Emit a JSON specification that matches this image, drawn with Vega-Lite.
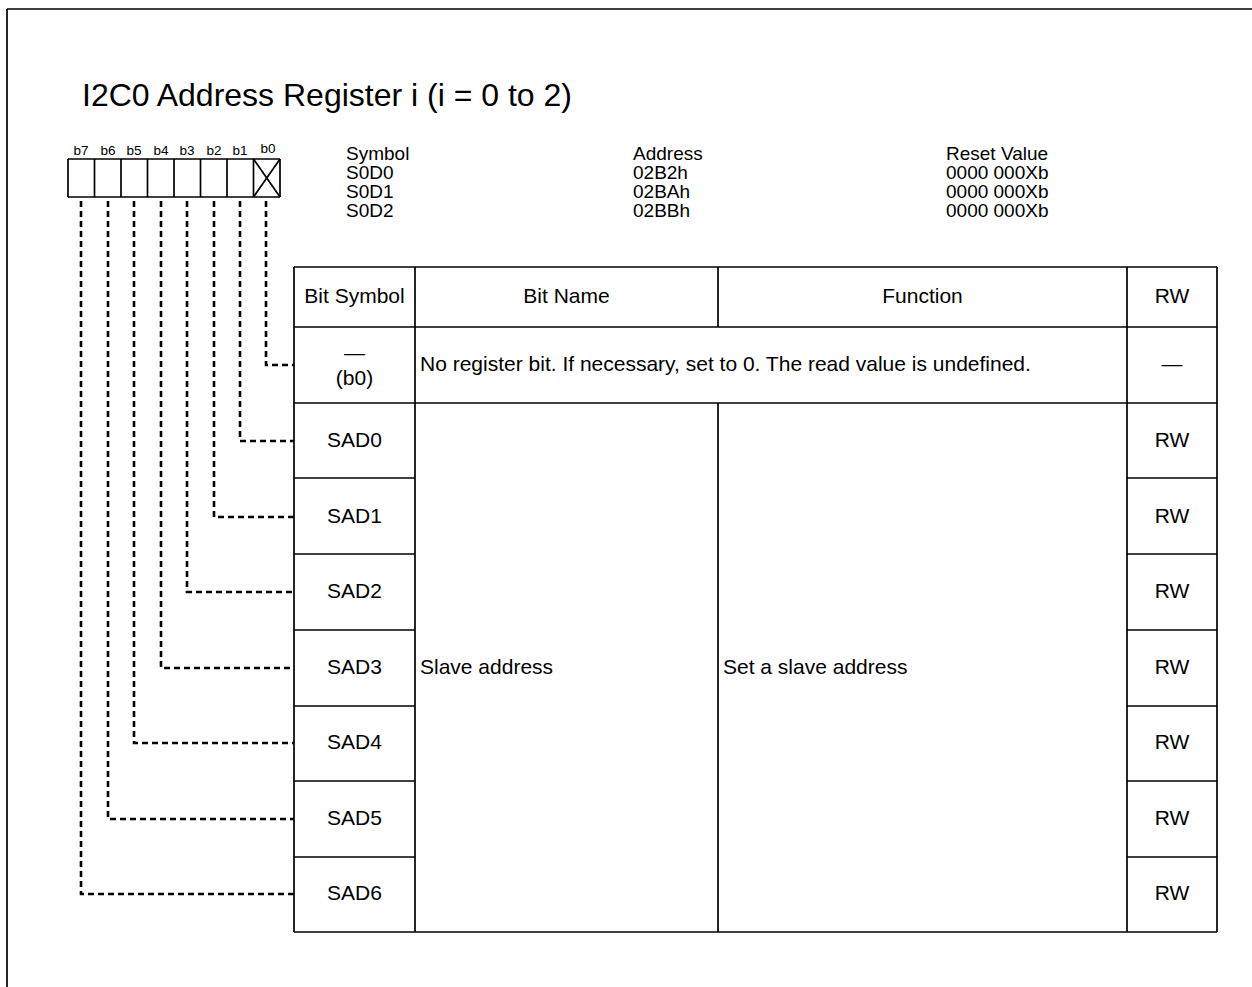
{
  "$schema": "https://vega.github.io/schema/vega-lite/v6.json",
  "width": 1252,
  "height": 987,
  "autosize": {"type": "none"},
  "padding": 0,
  "background": "white",
  "config": {"view": {"stroke": null}, "font": "Liberation Sans"},
  "datasets": {
    "solid": [
      {"x": 7, "y": 9, "x2": 1260, "y2": 9},
      {"x": 7, "y": 9, "x2": 7, "y2": 1000},
      {"x": 68, "y": 159, "x2": 280, "y2": 159},
      {"x": 68, "y": 197, "x2": 280, "y2": 197},
      {"x": 68, "y": 159, "x2": 68, "y2": 197},
      {"x": 94.5, "y": 159, "x2": 94.5, "y2": 197},
      {"x": 121, "y": 159, "x2": 121, "y2": 197},
      {"x": 147.5, "y": 159, "x2": 147.5, "y2": 197},
      {"x": 174, "y": 159, "x2": 174, "y2": 197},
      {"x": 200.5, "y": 159, "x2": 200.5, "y2": 197},
      {"x": 227, "y": 159, "x2": 227, "y2": 197},
      {"x": 253.5, "y": 159, "x2": 253.5, "y2": 197},
      {"x": 280, "y": 159, "x2": 280, "y2": 197},
      {"x": 253.5, "y": 159, "x2": 280, "y2": 197},
      {"x": 253.5, "y": 197, "x2": 280, "y2": 159},
      {"x": 294, "y": 267, "x2": 1217, "y2": 267},
      {"x": 294, "y": 327, "x2": 1217, "y2": 327},
      {"x": 294, "y": 403, "x2": 1217, "y2": 403},
      {"x": 294, "y": 932, "x2": 1217, "y2": 932},
      {"x": 294, "y": 478, "x2": 415, "y2": 478},
      {"x": 294, "y": 554, "x2": 415, "y2": 554},
      {"x": 294, "y": 630, "x2": 415, "y2": 630},
      {"x": 294, "y": 706, "x2": 415, "y2": 706},
      {"x": 294, "y": 781, "x2": 415, "y2": 781},
      {"x": 294, "y": 857, "x2": 415, "y2": 857},
      {"x": 1127, "y": 478, "x2": 1217, "y2": 478},
      {"x": 1127, "y": 554, "x2": 1217, "y2": 554},
      {"x": 1127, "y": 630, "x2": 1217, "y2": 630},
      {"x": 1127, "y": 706, "x2": 1217, "y2": 706},
      {"x": 1127, "y": 781, "x2": 1217, "y2": 781},
      {"x": 1127, "y": 857, "x2": 1217, "y2": 857},
      {"x": 294, "y": 267, "x2": 294, "y2": 932},
      {"x": 415, "y": 267, "x2": 415, "y2": 932},
      {"x": 1127, "y": 267, "x2": 1127, "y2": 932},
      {"x": 1217, "y": 267, "x2": 1217, "y2": 932},
      {"x": 718, "y": 267, "x2": 718, "y2": 327},
      {"x": 718, "y": 403, "x2": 718, "y2": 932}
    ],
    "dashed": [
      {"bit": "b0", "seq": 1, "x": 266, "y": 201},
      {"bit": "b0", "seq": 2, "x": 266, "y": 365},
      {"bit": "b0", "seq": 3, "x": 294, "y": 365},
      {"bit": "b1", "seq": 1, "x": 240, "y": 201},
      {"bit": "b1", "seq": 2, "x": 240, "y": 441},
      {"bit": "b1", "seq": 3, "x": 294, "y": 441},
      {"bit": "b2", "seq": 1, "x": 214, "y": 201},
      {"bit": "b2", "seq": 2, "x": 214, "y": 517},
      {"bit": "b2", "seq": 3, "x": 294, "y": 517},
      {"bit": "b3", "seq": 1, "x": 187, "y": 201},
      {"bit": "b3", "seq": 2, "x": 187, "y": 592},
      {"bit": "b3", "seq": 3, "x": 294, "y": 592},
      {"bit": "b4", "seq": 1, "x": 161, "y": 201},
      {"bit": "b4", "seq": 2, "x": 161, "y": 668},
      {"bit": "b4", "seq": 3, "x": 294, "y": 668},
      {"bit": "b5", "seq": 1, "x": 134, "y": 201},
      {"bit": "b5", "seq": 2, "x": 134, "y": 743},
      {"bit": "b5", "seq": 3, "x": 294, "y": 743},
      {"bit": "b6", "seq": 1, "x": 108, "y": 201},
      {"bit": "b6", "seq": 2, "x": 108, "y": 819},
      {"bit": "b6", "seq": 3, "x": 294, "y": 819},
      {"bit": "b7", "seq": 1, "x": 81, "y": 201},
      {"bit": "b7", "seq": 2, "x": 81, "y": 894},
      {"bit": "b7", "seq": 3, "x": 294, "y": 894}
    ],
    "bitLabels": [
      {"label": "b7", "x": 81, "y": 151},
      {"label": "b6", "x": 108, "y": 151},
      {"label": "b5", "x": 134, "y": 151},
      {"label": "b4", "x": 161, "y": 151},
      {"label": "b3", "x": 187, "y": 151},
      {"label": "b2", "x": 214, "y": 151},
      {"label": "b1", "x": 240, "y": 151},
      {"label": "b0", "x": 268, "y": 149}
    ],
    "title": [
      {"label": "I2C0 Address Register i (i = 0 to 2)", "x": 82, "y": 96}
    ],
    "headerText": [
      {"label": "Symbol", "x": 346, "y": 154},
      {"label": "S0D0", "x": 346, "y": 173},
      {"label": "S0D1", "x": 346, "y": 192},
      {"label": "S0D2", "x": 346, "y": 211},
      {"label": "Address", "x": 633, "y": 154},
      {"label": "02B2h", "x": 633, "y": 173},
      {"label": "02BAh", "x": 633, "y": 192},
      {"label": "02BBh", "x": 633, "y": 211},
      {"label": "Reset Value", "x": 946, "y": 154},
      {"label": "0000 000Xb", "x": 946, "y": 173},
      {"label": "0000 000Xb", "x": 946, "y": 192},
      {"label": "0000 000Xb", "x": 946, "y": 211}
    ],
    "centerText": [
      {"label": "Bit Symbol", "x": 354.5, "y": 297},
      {"label": "Bit Name", "x": 566.5, "y": 297},
      {"label": "Function", "x": 922.5, "y": 297},
      {"label": "RW", "x": 1172, "y": 297},
      {"label": "—", "x": 354.5, "y": 354},
      {"label": "(b0)", "x": 354.5, "y": 379},
      {"label": "—", "x": 1172, "y": 365},
      {"label": "SAD0", "x": 354.5, "y": 441},
      {"label": "SAD1", "x": 354.5, "y": 517},
      {"label": "SAD2", "x": 354.5, "y": 592},
      {"label": "SAD3", "x": 354.5, "y": 668},
      {"label": "SAD4", "x": 354.5, "y": 743},
      {"label": "SAD5", "x": 354.5, "y": 819},
      {"label": "SAD6", "x": 354.5, "y": 894},
      {"label": "RW", "x": 1172, "y": 441},
      {"label": "RW", "x": 1172, "y": 517},
      {"label": "RW", "x": 1172, "y": 592},
      {"label": "RW", "x": 1172, "y": 668},
      {"label": "RW", "x": 1172, "y": 743},
      {"label": "RW", "x": 1172, "y": 819},
      {"label": "RW", "x": 1172, "y": 894}
    ],
    "leftText": [
      {"label": "No register bit. If necessary, set to 0. The read value is undefined.", "x": 420, "y": 365},
      {"label": "Slave address", "x": 420, "y": 668},
      {"label": "Set a slave address", "x": 723, "y": 668}
    ]
  },
  "layer": [
    {
      "data": {"name": "solid"},
      "mark": {"type": "rule", "color": "black", "strokeWidth": 1.7},
      "encoding": {
        "x": {"field": "x", "type": "quantitative", "scale": {"domain": [0, 1252], "nice": false, "zero": false}, "axis": null},
        "y": {"field": "y", "type": "quantitative", "scale": {"domain": [0, 987], "reverse": true, "nice": false, "zero": false}, "axis": null},
        "x2": {"field": "x2"},
        "y2": {"field": "y2"}
      }
    },
    {
      "data": {"name": "dashed"},
      "mark": {"type": "line", "color": "black", "strokeWidth": 2.6, "strokeDash": [6, 4], "interpolate": "linear"},
      "encoding": {
        "x": {"field": "x", "type": "quantitative"},
        "y": {"field": "y", "type": "quantitative"},
        "detail": {"field": "bit", "type": "nominal"},
        "order": {"field": "seq", "type": "quantitative"}
      }
    },
    {
      "data": {"name": "bitLabels"},
      "mark": {"type": "text", "fontSize": 13.5, "align": "center", "baseline": "middle", "color": "black"},
      "encoding": {
        "x": {"field": "x", "type": "quantitative"},
        "y": {"field": "y", "type": "quantitative"},
        "text": {"field": "label"}
      }
    },
    {
      "data": {"name": "title"},
      "mark": {"type": "text", "fontSize": 32, "align": "left", "baseline": "middle", "color": "black"},
      "encoding": {
        "x": {"field": "x", "type": "quantitative"},
        "y": {"field": "y", "type": "quantitative"},
        "text": {"field": "label"}
      }
    },
    {
      "data": {"name": "headerText"},
      "mark": {"type": "text", "fontSize": 19, "align": "left", "baseline": "middle", "color": "black"},
      "encoding": {
        "x": {"field": "x", "type": "quantitative"},
        "y": {"field": "y", "type": "quantitative"},
        "text": {"field": "label"}
      }
    },
    {
      "data": {"name": "centerText"},
      "mark": {"type": "text", "fontSize": 21, "align": "center", "baseline": "middle", "color": "black"},
      "encoding": {
        "x": {"field": "x", "type": "quantitative"},
        "y": {"field": "y", "type": "quantitative"},
        "text": {"field": "label"}
      }
    },
    {
      "data": {"name": "leftText"},
      "mark": {"type": "text", "fontSize": 21, "align": "left", "baseline": "middle", "color": "black"},
      "encoding": {
        "x": {"field": "x", "type": "quantitative"},
        "y": {"field": "y", "type": "quantitative"},
        "text": {"field": "label"}
      }
    }
  ]
}
